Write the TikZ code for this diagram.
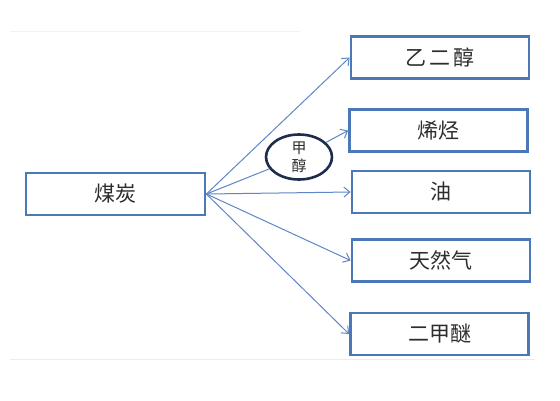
\documentclass[tikz,border=0pt]{standalone}
\usepackage{fontspec}
\newfontfamily\cjk{Noto Sans CJK SC}
\usetikzlibrary{arrows.meta,shapes.geometric}
\definecolor{boxblue}{RGB}{74,120,184}
\definecolor{arrblue}{RGB}{95,135,198}
\definecolor{navy}{RGB}{30,45,78}
\definecolor{txt}{RGB}{45,45,45}
\begin{document}
\begin{tikzpicture}[x=1pt,y=-1pt,
  bx/.style={draw=boxblue,line width=2.8pt,rectangle,minimum width=178pt,minimum height=42pt,inner sep=0pt,font=\cjk\fontsize{21}{21}\selectfont,text=txt},
  ar/.style={draw=arrblue,line width=1pt,-{Straight Barb[length=6pt,width=10pt]}},
  ln/.style={draw=arrblue,line width=1pt}]
\useasboundingbox[fill=white] (0,0) rectangle (560,400);
\draw[gray!15,line width=1pt] (10,359) -- (535,359);
\draw[gray!10,line width=0.8pt] (10,31) -- (300,31);
\node[bx,minimum width=179pt] (mt) at (115.5,194) {煤炭};
\node[bx] (yec) at (440,57.5) {乙\,二\,醇};
\node[bx] (xt) at (438.5,130.5) {烯烃};
\node[bx] (you) at (441,192) {油};
\node[bx] (trq) at (441,260.5) {天然气};
\node[bx] (ejm) at (439.5,334) {二甲醚};
\node[draw=navy,line width=2.6pt,ellipse,minimum width=66pt,minimum height=45pt,inner sep=0pt,align=center,font=\cjk\fontsize{15}{18}\selectfont,text=txt] (jc) at (299,157) {甲\\醇};
\draw[ar] (mt.east) -- (yec.west);
\draw[ln] (mt.east) -- (jc);
\draw[ar] (jc) -- (xt.west);
\draw[ar] (mt.east) -- (you.west);
\draw[ar] (mt.east) -- (trq.west);
\draw[ar] (mt.east) -- (ejm.west);
\end{tikzpicture}
\end{document}
